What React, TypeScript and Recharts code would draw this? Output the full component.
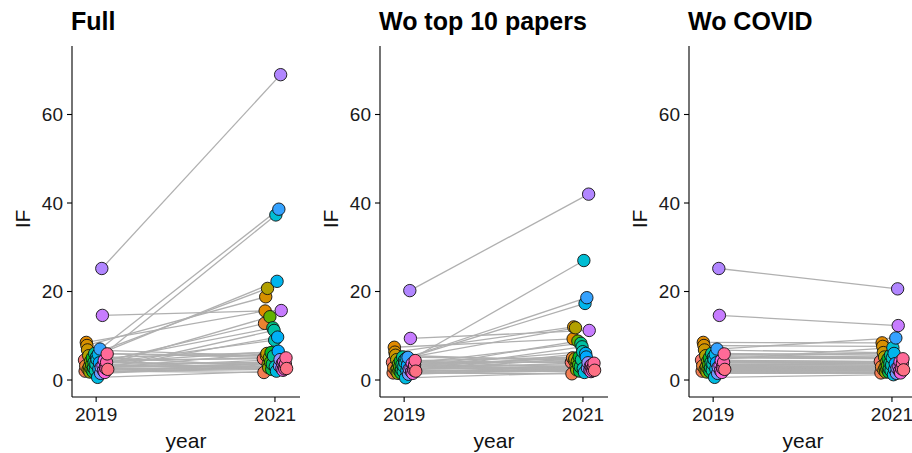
import { Scatter, ScatterChart, XAxis, YAxis } from "recharts";

// journals, ordered as in the colour legend (hue order)
const journals = [
  "J01", "J02", "J03", "J04", "J05", "J06", "J07", "J08", "J09", "J10",
  "J11", "J12", "J13", "J14", "J15", "J16", "J17", "J18", "J19", "J20",
  "J21", "J22", "J23", "J24", "J25", "J26", "J27", "J28", "J29", "J30",
  "J31", "J32", "J33", "J34", "J35", "J36", "J37", "J38", "J39", "J40",
];

const years = [2019, 2021];
const yTicks = [0, 20, 40, 60];

const full2019 = [
  4.5, 2.0, 3.2, 8.5, 7.8, 6.8, 2.4, 5.5, 3.0, 1.8,
  4.2, 2.6, 3.5, 5.0, 1.9, 2.8, 4.0, 6.0, 2.2, 3.6,
  5.2, 4.6, 0.6, 5.8, 2.5, 3.9, 7.0, 1.5, 2.9, 25.2,
  14.6, 3.3, 2.1, 4.4, 1.7, 3.0, 2.6, 4.0, 5.9, 2.4,
];
const full2021 = [
  4.8, 1.7, 12.8, 15.6, 18.8, 5.5, 6.0, 20.7, 3.5, 2.8,
  5.0, 14.3, 4.0, 6.2, 2.4, 3.6, 11.8, 5.4, 11.2, 9.0,
  3.0, 37.3, 2.0, 22.3, 9.7, 6.5, 38.6, 3.2, 4.6, 69.0,
  15.7, 2.6, 3.8, 2.2, 4.1, 3.0, 2.5, 3.6, 5.0, 2.6,
];

const woTop2019 = [
  4.0, 1.6, 2.8, 7.4, 6.3, 5.6, 2.1, 4.6, 2.6, 1.5,
  3.6, 2.2, 3.0, 4.3, 1.6, 2.4, 3.5, 5.2, 1.9, 3.1,
  4.5, 3.9, 0.5, 4.9, 2.1, 3.3, 5.1, 1.3, 2.5, 20.2,
  9.4, 2.8, 1.8, 3.7, 1.5, 2.6, 2.2, 3.4, 4.4, 2.0,
];
const woTop2021 = [
  4.0, 1.4, 5.0, 9.3, 12.0, 4.4, 4.8, 11.8, 3.0, 2.3,
  4.2, 8.8, 3.4, 5.2, 2.0, 3.0, 8.3, 4.6, 7.5, 6.4,
  2.6, 27.0, 1.7, 17.3, 6.0, 5.2, 18.6, 2.7, 3.9, 42.0,
  11.2, 2.2, 3.2, 1.9, 3.4, 2.6, 2.1, 3.0, 3.8, 2.2,
];

const woCovid2019 = [
  4.5, 2.0, 3.2, 8.5, 7.8, 6.8, 2.4, 5.5, 3.0, 1.8,
  4.2, 2.6, 3.5, 5.0, 1.9, 2.8, 4.0, 6.0, 2.2, 3.6,
  5.2, 4.6, 0.6, 5.8, 2.5, 3.9, 7.0, 1.5, 2.9, 25.2,
  14.6, 3.3, 2.1, 4.4, 1.7, 3.0, 2.6, 4.0, 5.9, 2.4,
];
const woCovid2021 = [
  4.2, 1.6, 3.0, 8.4, 7.6, 6.2, 2.2, 5.2, 2.8, 1.8,
  4.0, 2.5, 3.3, 4.8, 1.8, 2.6, 3.8, 5.6, 2.1, 3.4,
  5.0, 7.3, 1.2, 6.0, 2.4, 3.7, 9.5, 1.5, 2.7, 20.6,
  12.3, 3.0, 2.0, 4.1, 1.6, 2.8, 2.5, 3.8, 4.8, 2.3,
];

const panelTitles = ["Full", "Wo top 10 papers", "Wo COVID"];

// ggplot-like hue palette (hcl, c = 100, l = 65)
function hcl(h: number, c = 100, l = 65) {
  const hr = (h * Math.PI) / 180;
  const U = c * Math.cos(hr);
  const V = c * Math.sin(hr);
  const Xn = 95.047, Yn = 100, Zn = 108.883;
  const Y = Yn * Math.pow((l + 16) / 116, 3);
  const den = Xn + 15 * Yn + 3 * Zn;
  const up = U / (13 * l) + (4 * Xn) / den;
  const vp = V / (13 * l) + (9 * Yn) / den;
  const X = (Y * 9 * up) / (4 * vp);
  const Z = (Y * (12 - 3 * up - 20 * vp)) / (4 * vp);
  const lin = [
    3.240479 * X - 1.53715 * Y - 0.498535 * Z,
    -0.969256 * X + 1.875992 * Y + 0.041556 * Z,
    0.055648 * X - 0.204043 * Y + 1.057311 * Z,
  ];
  const hex = lin
    .map((v) => {
      v = v / 100;
      const s = v <= 0.0031308 ? 12.92 * v : 1.055 * Math.pow(v, 1 / 2.4) - 0.055;
      const n = Math.round(Math.min(1, Math.max(0, s)) * 255);
      return n.toString(16).padStart(2, "0");
    })
    .join("");
  return "#" + hex;
}

const n = journals.length;
const colors = journals.map((_, i) => hcl(15 + (360 / n) * i));
const dodge = (i: number) => -0.13 + (0.26 * i) / (n - 1);

const Dot = (props: any) => (
  <circle
    cx={props.cx}
    cy={props.cy}
    r={6.2}
    fill={props.payload.color}
    stroke="#111"
    strokeWidth={0.9}
  />
);
const NoDot = () => <g />;

const font = "'Liberation Sans', Arial, Helvetica, sans-serif";

type PanelProps = {
  left: number;
  width: number;
  yAxisWidth: number;
  v2019: number[];
  v2021: number[];
};

function Panel({ left, width, yAxisWidth, v2019, v2021 }: PanelProps) {
  const points = [
    ...journals.map((name, i) => ({ name, x: years[0] + dodge(i), y: v2019[i], color: colors[i] })),
    ...journals.map((name, i) => ({ name, x: years[1] + dodge(i), y: v2021[i], color: colors[i] })),
  ];
  return (
    <div style={{ position: "absolute", left, top: 0 }}>
      <ScatterChart
        width={width}
        height={453}
        margin={{ top: 46, right: 0, bottom: 0, left: 0 }}
        style={{ fontFamily: font }}
      >
        <XAxis
          type="number"
          dataKey="x"
          domain={[2018.73, 2021.28]}
          ticks={years}
          allowDataOverflow
          height={56}
          tickSize={5}
          tickMargin={6}
          axisLine={{ stroke: "#000", strokeWidth: 1.1 }}
          tickLine={{ stroke: "#000", strokeWidth: 1.1 }}
          tick={{ fill: "#1a1a1a", fontSize: 19 }}
          label={{ value: "year", position: "insideBottom", offset: 5, fill: "#111", fontSize: 21 }}
        />
        <YAxis
          type="number"
          dataKey="y"
          domain={[-3.84, 75.48]}
          ticks={yTicks}
          allowDataOverflow
          width={yAxisWidth}
          tickSize={5}
          tickMargin={4}
          axisLine={{ stroke: "#000", strokeWidth: 1.1 }}
          tickLine={{ stroke: "#000", strokeWidth: 1.1 }}
          tick={{ fill: "#1a1a1a", fontSize: 19 }}
        />
        {journals.map((name, i) => (
          <Scatter
            key={name}
            data={[
              { x: years[0] + dodge(i), y: v2019[i] },
              { x: years[1] + dodge(i), y: v2021[i] },
            ]}
            line={{ stroke: "#b0b0b0", strokeWidth: 1.3 }}
            shape={NoDot}
            isAnimationActive={false}
          />
        ))}
        <Scatter data={points} shape={Dot} isAnimationActive={false} />
      </ScatterChart>
    </div>
  );
}

export default function App() {
  const axisX = [72, 380, 689];
  return (
    <div
      style={{
        position: "absolute",
        left: 0,
        top: 0,
        width: 912,
        height: 453,
        overflow: "hidden",
        background: "#fff",
      }}
    >
      <Panel left={0} width={300} yAxisWidth={72} v2019={full2019} v2021={full2021} />
      <Panel left={300} width={308} yAxisWidth={80} v2019={woTop2019} v2021={woTop2021} />
      <Panel left={608} width={309} yAxisWidth={81} v2019={woCovid2019} v2021={woCovid2021} />
      <svg
        width={912}
        height={453}
        style={{ position: "absolute", left: 0, top: 0, pointerEvents: "none", fontFamily: font }}
      >
        {panelTitles.map((t, i) => (
          <text key={t} x={axisX[i] - 1} y={30} fontSize={25} fontWeight="bold" fill="#000">
            {t}
          </text>
        ))}
        {axisX.map((ax) => (
          <text
            key={ax}
            x={ax - 42}
            y={219}
            transform={`rotate(-90 ${ax - 42} 219)`}
            textAnchor="middle"
            fontSize={21}
            fill="#111"
          >
            IF
          </text>
        ))}
      </svg>
    </div>
  );
}
